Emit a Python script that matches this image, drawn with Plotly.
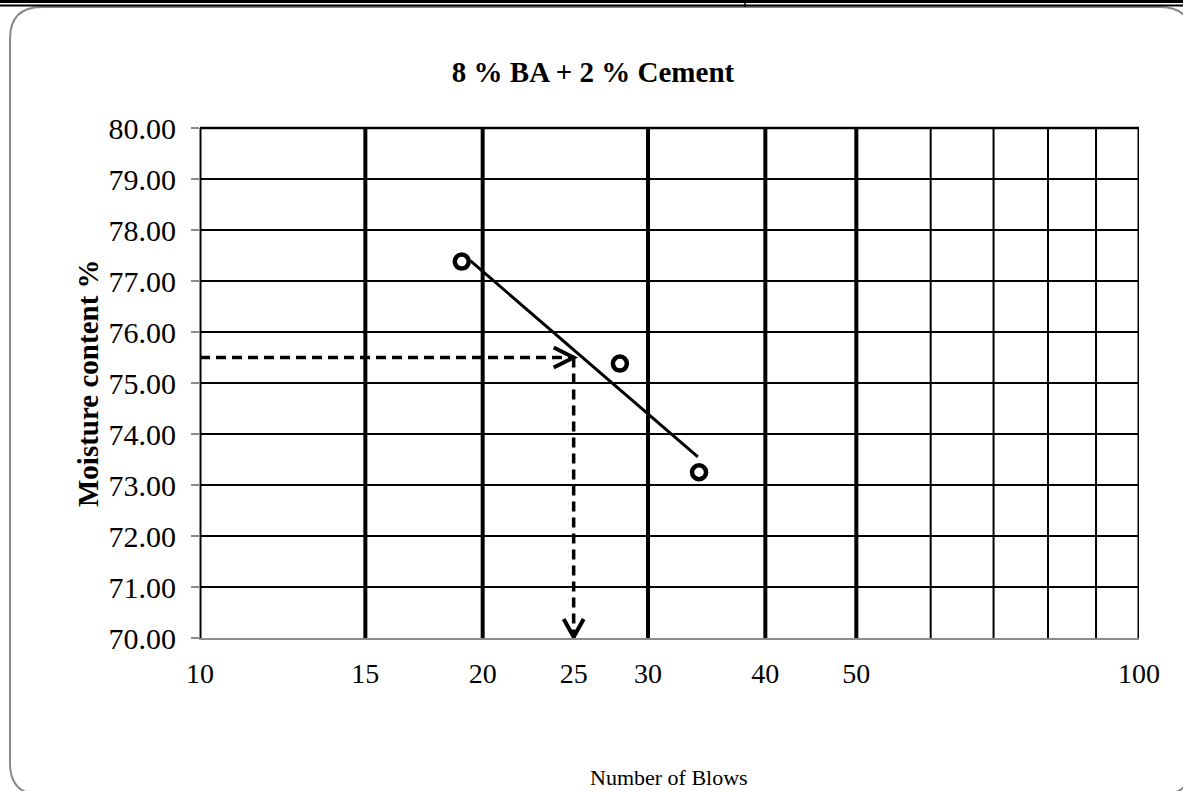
import plotly.graph_objects as go

# ---------------- data ----------------
blows = [19, 28, 34]
moisture = [77.38, 75.38, 73.25]
trend_x = [19.4, 33.9]
trend_y = [77.40, 73.55]
ll_blows = 25
ll_moisture = 75.5
x_start = 10
y_floor = 70
x_tick_vals = [10, 15, 20, 25, 30, 40, 50, 100]
x_tick_text = ["10", "15", "20", "25", "30", "40", "50", "100"]
thick_grid = [15, 20, 30, 40, 50]
thin_grid = [60, 70, 80, 90]
edge_grid = [10, 100]
y_ticks = [70, 71, 72, 73, 74, 75, 76, 77, 78, 79, 80]

W, H = 1183, 791
ML, MR, MT, MB = 200, 44, 128, 153
PW, PH = W - ML - MR, H - MT - MB

def px(x):
    return (x - ML) / PW

def py(y):
    return (H - MB - y) / PH

FONT = "Liberation Serif"

fig = go.Figure()

fig.add_trace(go.Scatter(x=trend_x, y=trend_y, mode="lines",
                         line=dict(color="black", width=3), hoverinfo="skip"))
fig.add_trace(go.Scatter(x=[x_start, ll_blows], y=[ll_moisture, ll_moisture], mode="lines",
                         line=dict(color="black", width=3.5, dash="10px,6px"), hoverinfo="skip"))
fig.add_trace(go.Scatter(x=[ll_blows, ll_blows], y=[ll_moisture, y_floor], mode="lines",
                         line=dict(color="black", width=3.5, dash="10px,6px"), hoverinfo="skip"))
fig.add_trace(go.Scatter(x=blows, y=moisture, mode="markers",
                         marker=dict(symbol="circle", size=14, color="white",
                                     line=dict(color="black", width=4.5))))

shapes = []
for v in thick_grid:
    shapes.append(dict(type="line", xref="x", yref="paper", x0=v, x1=v, y0=0, y1=1,
                       line=dict(color="black", width=4), layer="below"))
for v in thin_grid:
    shapes.append(dict(type="line", xref="x", yref="paper", x0=v, x1=v, y0=0, y1=1,
                       line=dict(color="black", width=2), layer="below"))
for v in edge_grid:
    shapes.append(dict(type="line", xref="x", yref="paper", x0=v, x1=v, y0=0, y1=1,
                       line=dict(color="black", width=3), layer="below"))
# top border
shapes.append(dict(type="line", xref="paper", yref="paper", x0=0, x1=1, y0=1, y1=1,
                   line=dict(color="black", width=2.5), layer="below"))
# arrowheads (pixel-sized chevrons anchored at the liquid-limit point)
shapes.append(dict(type="path", xref="x", yref="y", xsizemode="pixel", ysizemode="pixel",
                   xanchor=ll_blows, yanchor=ll_moisture,
                   path="M -20,10 L 0,0 L -20,-10",
                   line=dict(color="black", width=4)))
shapes.append(dict(type="path", xref="x", yref="y", xsizemode="pixel", ysizemode="pixel",
                   xanchor=ll_blows, yanchor=y_floor,
                   path="M -10,19 L 0,1 L 10,19",
                   line=dict(color="black", width=4)))
# rounded chart border
r = 32
L, T, R, B = 10, 7, 1192, 795
border = (f"M {px(L)},{py(T + r)} Q {px(L)},{py(T)} {px(L + r)},{py(T)} "
          f"L {px(R - r)},{py(T)} Q {px(R)},{py(T)} {px(R)},{py(T + r)} "
          f"L {px(R)},{py(B - r)} Q {px(R)},{py(B)} {px(R - r)},{py(B)} "
          f"L {px(L + r)},{py(B)} Q {px(L)},{py(B)} {px(L)},{py(B - r)} Z")
shapes.append(dict(type="path", xref="paper", yref="paper", path=border,
                   line=dict(color="#8a8a8a", width=2), layer="below"))
# document table lines on top
shapes.append(dict(type="line", xref="paper", yref="paper", x0=px(0), x1=px(W), y0=py(1.5), y1=py(1.5),
                   line=dict(color="black", width=3)))
shapes.append(dict(type="line", xref="paper", yref="paper", x0=px(0), x1=px(W), y0=py(5.5), y1=py(5.5),
                   line=dict(color="black", width=2)))
shapes.append(dict(type="line", xref="paper", yref="paper", x0=px(745), x1=px(745), y0=py(0), y1=py(7),
                   line=dict(color="black", width=1.5)))

annotations = [
    dict(text="<b>Moisture content %</b>", xref="paper", yref="paper",
         x=px(88), y=py(383), textangle=-90, showarrow=False,
         font=dict(family=FONT, size=29, color="black"), xanchor="center", yanchor="middle"),
    dict(text="Number of Blows", xref="paper", yref="paper",
         x=px(669), y=py(777), showarrow=False,
         font=dict(family=FONT, size=22, color="black"), xanchor="center", yanchor="middle"),
]

fig.update_layout(
    width=W, height=H,
    margin=dict(l=ML, r=MR, t=MT, b=MB),
    paper_bgcolor="white", plot_bgcolor="white",
    showlegend=False,
    title=dict(text="<b>8 % BA + 2 % Cement</b>", x=593 / W, xanchor="center",
               y=1 - 72 / H, yanchor="middle", yref="container",
               font=dict(family=FONT, size=29, color="black")),
    xaxis=dict(type="log", range=[1, 2], tickvals=x_tick_vals, ticktext=x_tick_text,
               showgrid=False, zeroline=False, showline=True, linecolor="#8c8c8c", linewidth=2,
               ticks="", ticklabelstandoff=9,
               tickfont=dict(family=FONT, size=28, color="black")),
    yaxis=dict(range=[70, 80], tickvals=y_ticks, tickformat=".2f",
               showgrid=True, gridcolor="black", gridwidth=2, zeroline=False,
               showline=True, linecolor="#8c8c8c", linewidth=1,
               ticks="outside", ticklen=8, tickcolor="#8c8c8c", tickwidth=2,
               ticklabelstandoff=9,
               tickfont=dict(family=FONT, size=30, color="black")),
    shapes=shapes,
    annotations=annotations,
)

fig.write_html("out.html")
